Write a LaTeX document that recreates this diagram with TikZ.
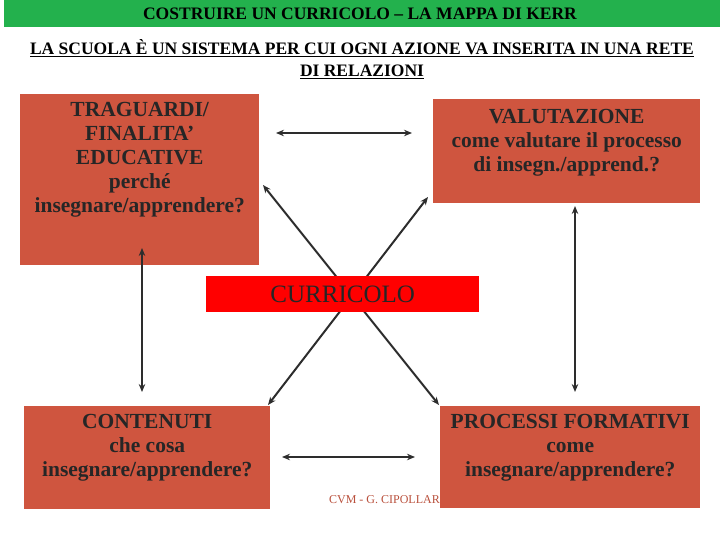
\documentclass[tikz,border=0pt]{standalone}
\usepackage{fontspec}
\setmainfont{Liberation Serif}
\usetikzlibrary{positioning,arrows.meta}
\definecolor{boxred}{RGB}{207,85,63}
\definecolor{bannergreen}{RGB}{35,177,77}
\definecolor{inkgray}{RGB}{45,45,45}
\definecolor{footred}{RGB}{185,80,60}

\begin{document}
\begin{tikzpicture}[x=1pt,y=-1pt,
		box/.style={fill=boxred, anchor=north west, inner sep=0pt},
		boxtext/.style={align=center, font=\fontsize{21.5}{24}\selectfont\bfseries, text=black!85, inner sep=0pt, anchor=north},
		link/.style={draw=inkgray, line width=2pt, {Stealth[length=8pt,width=6.5pt]}-{Stealth[length=8pt,width=6.5pt]}}]
	\useasboundingbox (0,0) rectangle (720,540);
	\node[fill=bannergreen, anchor=north west, minimum width=716pt, minimum height=27pt, inner sep=0pt] (banner) at (4,0) {};
	\node[font=\fontsize{17.5}{17.5}\selectfont\bfseries] (title) at (360,14) {COSTRUIRE UN CURRICOLO – LA MAPPA DI KERR};
	\node[align=center, font=\fontsize{17.5}{22}\selectfont\bfseries, inner sep=0pt, anchor=north] (motto) at (362,39)
		{\underline{LA SCUOLA È UN SISTEMA PER CUI OGNI AZIONE VA INSERITA IN UNA RETE}\\\underline{DI RELAZIONI}};

	\node[box, minimum width=239pt, minimum height=171pt] (trag) at (20,94) {};
	\node[box, minimum width=267pt, minimum height=104pt] (valut) at (433,99) {};
	\node[box, minimum width=246pt, minimum height=103pt] (cont) at (24,406) {};
	\node[anchor=east, font=\fontsize{12}{12}\selectfont, text=footred, inner sep=0pt] (footer) at (440,500) {CVM - G. CIPOLLAR};
	\node[box, minimum width=260pt, minimum height=102pt] (proc) at (440,406) {};

	\node[boxtext] (tragtext) at ([yshift=-8pt]trag.north) {TRAGUARDI/\\FINALITA’\\EDUCATIVE\\perché\\insegnare/apprendere?};
	\node[boxtext] (valuttext) at ([yshift=-10pt]valut.north) {VALUTAZIONE\\come valutare il processo\\di insegn./apprend.?};
	\node[boxtext] (conttext) at ([yshift=-8pt]cont.north) {CONTENUTI\\che cosa\\insegnare/apprendere?};
	\node[boxtext] (proctext) at ([yshift=-8pt]proc.north) {PROCESSI FORMATIVI\\come\\insegnare/apprendere?};

	\coordinate (tl) at (263,185);
	\coordinate (tr) at (428,197);
	\coordinate (bl) at (268,405);
	\coordinate (br) at (439,405);
	\draw[link] (tl) -- (br);
	\draw[link] (tr) -- (bl);
	\node[box, fill=red, minimum width=273pt, minimum height=36pt, font=\fontsize{25}{25}\selectfont, text=black!85] (curr) at (206,276) {CURRICOLO};

	\coordinate (h1) at (276,133);
	\coordinate (h2) at (412,133);
	\coordinate (h3) at (282,457);
	\coordinate (h4) at (415,457);
	\coordinate (v1) at (142,248);
	\coordinate (v2) at (142,392);
	\coordinate (v3) at (575,206);
	\coordinate (v4) at (575,392);
	\draw[link] (h1) -- (h2);
	\draw[link] (h3) -- (h4);
	\draw[link] (v1) -- (v2);
	\draw[link] (v3) -- (v4);
\end{tikzpicture}
\end{document}
